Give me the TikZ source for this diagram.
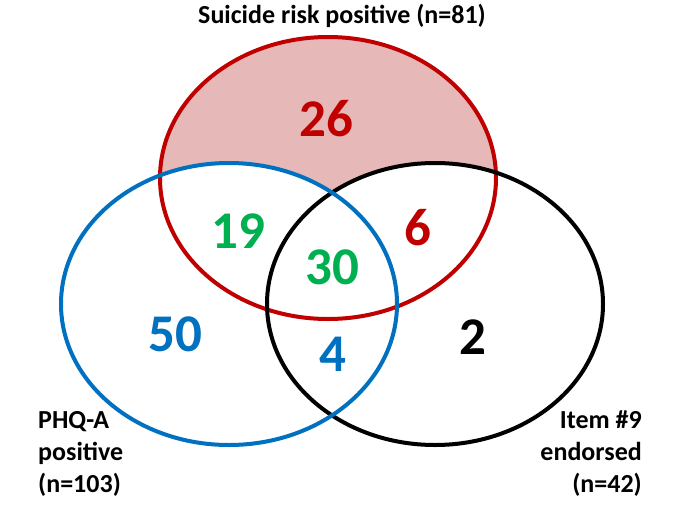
\documentclass[tikz,border=0pt]{standalone}
\usepackage{fontspec}
\setmainfont{Carlito}
\definecolor{riskred}{RGB}{192,0,0}
\definecolor{riskpink}{RGB}{230,185,184}
\definecolor{phqblue}{RGB}{0,112,192}
\definecolor{bothgreen}{RGB}{0,176,80}

\begin{document}
\begin{tikzpicture}[
    x=1pt, y=-1pt,
    setline/.style={line width=4pt},
    setsize/.style={x radius=168, y radius=141},
    count/.style={font=\fontsize{53}{53}\selectfont\bfseries, inner sep=0pt},
    setname/.style={font=\fontsize{26}{32}\selectfont\bfseries, inner sep=0pt}
]
\useasboundingbox (0,0) rectangle (678,528);

% set centres
\coordinate (risk) at (328,178);
\coordinate (phq) at (229,304);
\coordinate (item) at (435,304);

% shaded part of the suicide risk set
\fill[riskpink] (risk) ellipse [setsize];
\fill[white] (phq) ellipse [setsize];
\fill[white] (item) ellipse [setsize];

% outlines
\draw[setline, riskred] (risk) ellipse [setsize];
\draw[setline, black] (item) ellipse [setsize];
\draw[setline, phqblue] (phq) ellipse [setsize];

% counts
\node[count, riskred] (only26) at (326,119) {26};
\node[count, bothgreen] (rp19) at (238,231) {19};
\node[count, riskred] (ri6) at (418,228) {6};
\node[count, bothgreen] (all30) at (332,267) {30};
\node[count, phqblue] (only50) at (175,334) {50};
\node[count, phqblue] (pi4) at (333,354) {4};
\node[count, black] (only2) at (473,337) {2};

% set names
\node[setname] (risktitle) at (342,16) {Suicide risk positive (n=81)};
\node[setname, align=left, anchor=north west] (phqtitle) at (38,411) {PHQ-A\\positive\\(n=103)};
\node[setname, align=right, anchor=north east] (itemtitle) at (642,411) {Item \#9\\endorsed\\(n=42)};

\end{tikzpicture}
\end{document}
